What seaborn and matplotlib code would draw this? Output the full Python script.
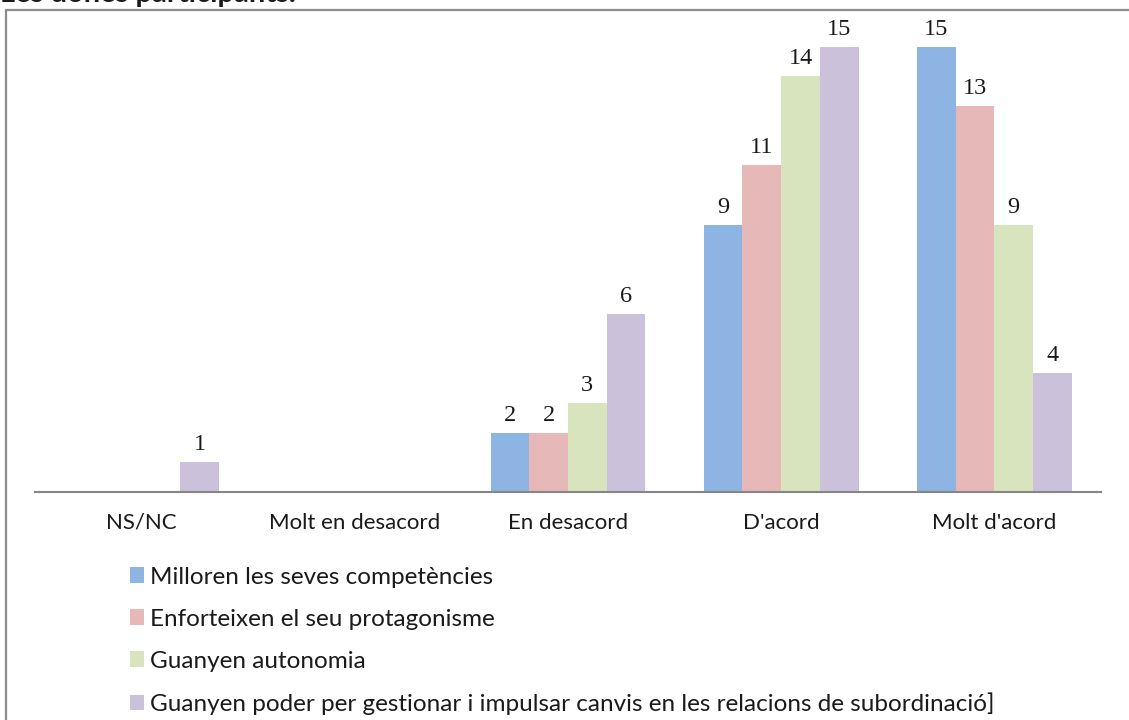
import pandas as pd
import matplotlib.pyplot as plt
from matplotlib.lines import Line2D
import seaborn as sns

categories = ["NS/NC", "Molt en desacord", "En desacord", "D'acord", "Molt d'acord"]
series = ["Milloren les seves competències",
          "Enforteixen el seu protagonisme",
          "Guanyen autonomia",
          "Guanyen poder per gestionar i impulsar canvis en les relacions de subordinació]"]
milloren = [0, 0, 2, 9, 15]
enforteixen = [0, 0, 2, 11, 13]
autonomia = [0, 0, 3, 14, 9]
poder = [1, 0, 6, 15, 4]
bar_colors = ["#8EB4E3", "#E6B9B8", "#D7E4BD", "#CCC1DA"]

rows = []
for name, vals in zip(series, [milloren, enforteixen, autonomia, poder]):
    for cat, v in zip(categories, vals):
        rows.append({"categoria": cat, "serie": name, "valor": v})
df = pd.DataFrame(rows)

sns.set_style("white")
plt.rcParams['font.family'] = ['Lato', 'DejaVu Sans']

W, H = 1129, 720
fig = plt.figure(figsize=(W / 100, H / 100), dpi=100)
ax = fig.add_axes([35 / W, 1 - 492 / H, (1101 - 35) / W, (492 - 17) / H])

sns.barplot(data=df, x="categoria", y="valor", hue="serie", order=categories,
            hue_order=series, palette=bar_colors, width=0.727, gap=0,
            errorbar=None, linewidth=0, saturation=1, ax=ax)

# value labels, skip the empty bars
for cont in ax.containers:
    labs = [f"{v:g}" if v > 0 else "" for v in cont.datavalues]
    ax.bar_label(cont, labels=labs, padding=5, fontsize=17.5,
                 family=['Liberation Serif', 'DejaVu Serif'], color='#1a1a1a')

ax.set_xlim(-0.5, 4.5)
ax.set_ylim(0, 16)
ax.set_xlabel("")
ax.set_ylabel("")
ax.set_yticks([])
for s in ["top", "left", "right"]:
    ax.spines[s].set_visible(False)
ax.spines["bottom"].set_color("#868686")
ax.spines["bottom"].set_linewidth(1.5)
ax.tick_params(axis="x", which="major", length=0, pad=15, labelsize=16,
               labelcolor="#1a1a1a")
ax.set_xticks([i - 0.5 for i in range(6)], minor=True)
ax.tick_params(axis="x", which="minor", length=6, width=1.5, color="#868686",
               direction="out")

handles, labels = ax.get_legend_handles_labels()
if ax.legend_ is not None:
    ax.legend_.remove()
fig.legend(handles, labels, loc="upper left",
           bbox_to_anchor=(120 / W, 1 - 557 / H), frameon=False,
           fontsize=17.5, handlelength=0.6, handleheight=0.6,
           handletextpad=0.25, labelspacing=0.86, borderaxespad=0,
           labelcolor="#1a1a1a")

# outer frame (left and top edges only are visible)
fig.add_artist(Line2D([6 / W, 6 / W], [0, 1 - 10 / H], color="#8c8c8c",
                      linewidth=1.6, transform=fig.transFigure))
fig.add_artist(Line2D([6 / W, 1], [1 - 10 / H, 1 - 10 / H], color="#8c8c8c",
                      linewidth=1.6, transform=fig.transFigure))

fig.text(0.0, 1 - 2 / H, "Les dones participants.", fontsize=21,
         fontweight="bold", va="baseline", ha="left", color="#1a1a1a")

fig.savefig("out.png", dpi=100)
